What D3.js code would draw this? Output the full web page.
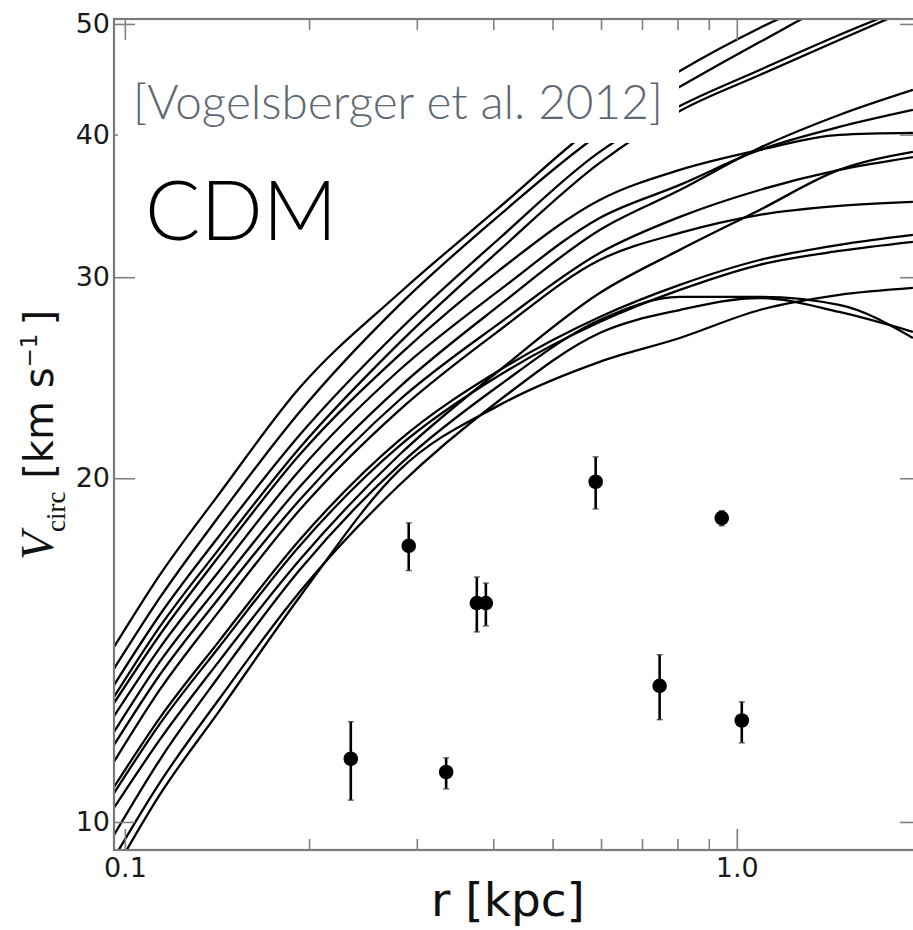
<!DOCTYPE html>
<html>
<head>
<meta charset="utf-8">
<script src="https://cdn.jsdelivr.net/npm/d3@7"></script>
<style>
body { margin: 0; background: #fff; }
</style>
</head>
<body>
<svg id="chart" width="913" height="930"></svg>
<script>
// radii (kpc) where the curves are sampled
var radii = [0.096, 0.114, 0.143, 0.193, 0.281, 0.41, 0.597, 0.807, 1.09, 1.47, 1.94];

// circular velocity curves of the subhaloes (km/s)
var vc01 = [14.23, 16.45, 19.42, 24.0, 29.06, 34.57, 41.03, 45.48, 49.6, 53.3, 56.9];
var vc02 = [13.62, 15.71, 18.57, 22.86, 28.37, 34.02, 40.05, 44.04, 48.2, 52.5, 55.8];
var vc03 = [13.18, 15.18, 17.84, 21.82, 26.97, 32.47, 38.63, 42.38, 45.57, 48.9, 51.95];
var vc04 = [12.87, 14.82, 17.38, 21.26, 26.28, 31.7, 37.78, 41.95, 45.11, 48.41, 51.64];
var vc05 = [12.71, 14.58, 17.13, 20.97, 25.65, 30.45, 35.06, 37.25, 38.78, 39.97, 40.13];
var vc06 = [12.38, 14.2, 16.62, 20.33, 24.88, 29.24, 33.81, 36.14, 38.78, 40.62, 42.04];
var vc07 = [11.99, 13.81, 16.13, 19.65, 24.04, 28.37, 33.0, 35.77, 38.94, 41.61, 43.77];
var vc08 = [11.68, 13.45, 15.74, 19.14, 23.42, 27.36, 31.5, 33.88, 35.77, 37.25, 38.23];
var vc09 = [11.29, 13.05, 15.33, 18.76, 22.95, 26.97, 31.06, 32.8, 34.02, 34.64, 34.92];
var vc10 = [10.29, 11.8, 13.86, 16.96, 20.97, 24.88, 29.06, 31.7, 34.36, 37.25, 38.63];
var vc11 = [10.73, 12.33, 14.43, 17.66, 21.6, 24.88, 27.69, 29.54, 31.06, 32.02, 32.67];
var vc12 = [10.6, 12.18, 14.26, 17.45, 21.35, 24.63, 27.41, 29.24, 30.76, 31.63, 32.22];
var vc13 = [9.74, 11.33, 13.45, 16.62, 20.55, 24.14, 27.52, 28.83, 28.83, 28.37, 26.54];
var vc14 = [9.3, 10.82, 12.84, 15.9, 19.73, 23.42, 26.81, 28.08, 28.77, 27.97, 26.87];
var vc15 = [9.04, 10.56, 12.53, 15.74, 20.33, 23.19, 25.29, 26.54, 28.08, 28.95, 29.36];
var curves = [vc01, vc02, vc03, vc04, vc05, vc06, vc07, vc08, vc09, vc10, vc11, vc12, vc13, vc14, vc15];

// observed dwarf spheroidals
var obsR  = [0.234, 0.291, 0.335, 0.376, 0.389, 0.588, 0.748, 0.945, 1.019];
var obsV  = [11.36, 17.45, 11.06, 15.55, 15.55, 19.86, 13.16, 18.46, 12.27];
var obsLo = [10.45, 16.6, 10.69, 14.67, 14.85, 18.8, 12.29, 18.17, 11.73];
var obsHi = [12.24, 18.28, 11.38, 16.39, 16.19, 20.88, 14.01, 18.73, 12.74];

var yTicks = [10, 20, 30, 40, 50];
var xMajor = [0.1, 1.0];
var xMinor = [0.2, 0.3, 0.4, 0.5, 0.6, 0.7, 0.8, 0.9];

function drawChart() {
	var svg = d3.select("#chart");
	var m = {left: 114, right: 921, top: 19, bottom: 850};

	var x = d3.scaleLog().domain([0.096, 2.0]).range([m.left, m.right]);
	var y = d3.scaleLog().domain([9.45, 50.5]).range([m.bottom, m.top]);

	svg.append("defs").append("clipPath").attr("id", "plotclip")
		.append("rect")
		.attr("x", m.left).attr("y", m.top)
		.attr("width", m.right - m.left).attr("height", m.bottom - m.top);

	var plot = svg.append("g").attr("clip-path", "url(#plotclip)");

	var line = d3.line()
		.x(function(d, i) { return x(radii[i]); })
		.y(function(d) { return y(d); })
		.curve(d3.curveMonotoneX);

	plot.selectAll("path.curve")
		.data(curves)
		.enter()
		.append("path")
		.attr("class", "curve")
		.attr("d", line)
		.attr("fill", "none")
		.attr("stroke", "#000")
		.attr("stroke-width", 2.3)
		.attr("stroke-linejoin", "round");

	// error bars
	var obs = obsR.map(function(r, i) { return {r: r, v: obsV[i], lo: obsLo[i], hi: obsHi[i]}; });
	var pts = plot.selectAll("g.obs").data(obs).enter().append("g").attr("class", "obs");
	pts.append("line")
		.attr("x1", function(d) { return x(d.r); })
		.attr("x2", function(d) { return x(d.r); })
		.attr("y1", function(d) { return y(d.lo); })
		.attr("y2", function(d) { return y(d.hi); })
		.attr("stroke", "#000").attr("stroke-width", 2.6);
	["lo", "hi"].forEach(function(k) {
		pts.append("line")
			.attr("x1", function(d) { return x(d.r) - 3; })
			.attr("x2", function(d) { return x(d.r) + 3; })
			.attr("y1", function(d) { return y(d[k]); })
			.attr("y2", function(d) { return y(d[k]); })
			.attr("stroke", "#444").attr("stroke-width", 1.2);
	});
	pts.append("circle")
		.attr("cx", function(d) { return x(d.r); })
		.attr("cy", function(d) { return y(d.v); })
		.attr("r", 7.3)
		.attr("fill", "#000");

	// axes
	var tickCol = "#808080";
	function styleAxis(g) {
		g.select(".domain").remove();
		g.selectAll(".tick line").attr("stroke", tickCol).attr("stroke-width", 1.6);
		g.selectAll(".tick text")
			.attr("fill", "#1a1a1a")
			.attr("font-family", "'DejaVu Sans', sans-serif")
			.attr("font-size", 27);
	}

	svg.append("g")
		.attr("transform", "translate(0," + m.bottom + ")")
		.call(d3.axisBottom(x).tickValues(xMajor).tickSize(-21).tickSizeOuter(0).tickPadding(8)
			.tickFormat(d3.format(".1f")))
		.call(styleAxis);
	svg.append("g")
		.attr("transform", "translate(0," + m.bottom + ")")
		.call(d3.axisBottom(x).tickValues(xMinor).tickSize(-11).tickSizeOuter(0).tickFormat(""))
		.call(styleAxis);
	svg.append("g")
		.attr("transform", "translate(0," + m.top + ")")
		.call(d3.axisTop(x).tickValues(xMajor).tickSize(-21).tickSizeOuter(0).tickFormat(""))
		.call(styleAxis);
	svg.append("g")
		.attr("transform", "translate(0," + m.top + ")")
		.call(d3.axisTop(x).tickValues(xMinor).tickSize(-11).tickSizeOuter(0).tickFormat(""))
		.call(styleAxis);
	svg.append("g")
		.attr("transform", "translate(" + m.left + ",0)")
		.call(d3.axisLeft(y).tickValues(yTicks).tickSize(-21).tickSizeOuter(0).tickPadding(4)
			.tickFormat(d3.format("d")))
		.call(styleAxis);
	svg.append("g")
		.attr("transform", "translate(" + m.right + ",0)")
		.call(d3.axisRight(y).tickValues(yTicks).tickSize(-21).tickSizeOuter(0).tickFormat(""))
		.call(styleAxis);

	svg.append("rect")
		.attr("x", m.left).attr("y", m.top)
		.attr("width", m.right - m.left).attr("height", m.bottom - m.top)
		.attr("fill", "none")
		.attr("stroke", "#7a7a7a")
		.attr("stroke-width", 2.2);

	// axis labels
	svg.append("text")
		.attr("x", 508)
		.attr("y", 916)
		.attr("text-anchor", "middle")
		.style("font-family", "'DejaVu Sans', sans-serif")
		.style("font-size", "47px")
		.attr("fill", "#111")
		.text("r [kpc]");

	var ylab = svg.append("text")
		.attr("transform", "translate(53,435) rotate(-90)")
		.attr("text-anchor", "middle")
		.attr("fill", "#111")
		.style("font-family", "'DejaVu Sans', sans-serif")
		.style("font-size", "40px");
	ylab.append("tspan")
		.style("font-family", "'Liberation Serif', serif")
		.style("font-style", "italic")
		.style("font-size", "46px")
		.text("V");
	ylab.append("tspan")
		.style("font-family", "'Liberation Serif', serif")
		.style("font-size", "27px")
		.attr("dy", 12)
		.text("circ");
	ylab.append("tspan")
		.attr("dy", -12)
		.text("\u00a0[km s");
	ylab.append("tspan")
		.style("font-size", "23px")
		.attr("dy", -16)
		.text("\u22121");
	ylab.append("tspan")
		.attr("dy", 16)
		.text("\u2009]");

	// citation box and labels
	svg.append("rect")
		.attr("x", 118).attr("y", 60)
		.attr("width", 679 - 118).attr("height", 143 - 60)
		.attr("fill", "#fff");
	svg.append("text")
		.attr("x", 133).attr("y", 119)
		.attr("fill", "#5e6872")
		.style("font-family", "Lato, 'Open Sans', sans-serif")
		.style("font-weight", 300)
		.style("font-size", "48px")
		.attr("textLength", 530)
		.attr("lengthAdjust", "spacingAndGlyphs")
		.text("[Vogelsberger et al. 2012]");
	svg.append("text")
		.attr("x", 145).attr("y", 240)
		.attr("fill", "#000")
		.style("font-family", "Lato, 'Open Sans', sans-serif")
		.style("font-weight", 300)
		.style("font-size", "82px")
		.text("CDM");
}

drawChart();
</script>
</body>
</html>
